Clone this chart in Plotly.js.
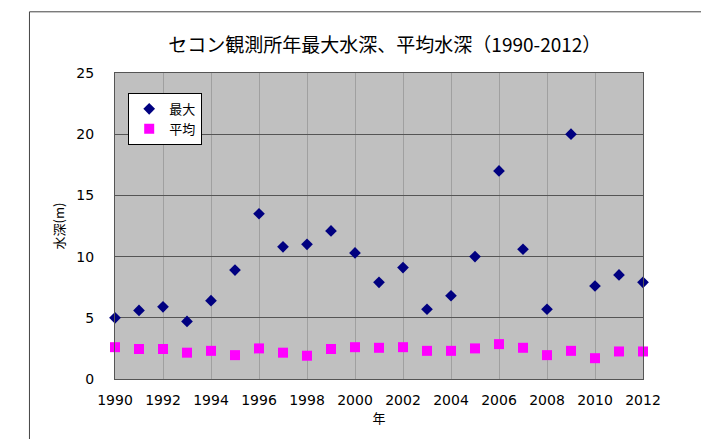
<!DOCTYPE html>
<html><head><meta charset="utf-8">
<script src="https://cdn.plot.ly/plotly-3.0.1.min.js"></script>
<style>body{margin:0;background:#fff}#chart{width:701px;height:439px}</style>
</head><body><div id="chart"></div>
<script>
const years = [1990,1991,1992,1993,1994,1995,1996,1997,1998,1999,2000,2001,2002,2003,2004,2005,2006,2007,2008,2009,2010,2011,2012];
const maxDepth = [5.0,5.6,5.9,4.7,6.4,8.9,13.5,10.8,11.0,12.1,10.3,7.9,9.1,5.7,6.8,10.0,17.0,10.6,5.7,20.0,7.6,8.5,7.9];
const avgDepth = [2.6,2.45,2.45,2.15,2.3,1.95,2.5,2.15,1.9,2.45,2.6,2.55,2.6,2.3,2.3,2.5,2.85,2.55,1.95,2.3,1.7,2.25,2.25];
const seriesNames = ['最大','平均'];
const titleText = 'セコン観測所年最大水深、平均水深（1990-2012）';
const xTitle = '年';
const yTitle = '水深(m)';

const font = '"Noto Sans CJK JP", "Liberation Sans", sans-serif';
const numFont = '"DejaVu Sans", sans-serif';
const traces = [
  {x: years, y: maxDepth, name: seriesNames[0], type: 'scatter', mode: 'markers', cliponaxis: false,
   marker: {symbol: 'diamond', color: '#000080', size: 9}},
  {x: years, y: avgDepth, name: seriesNames[1], type: 'scatter', mode: 'markers', cliponaxis: false,
   marker: {symbol: 'square', color: '#ff00ff', size: 10}}
];
const layout = {
  width: 701, height: 439,
  margin: {l: 115, r: 58, t: 73, b: 60},
  paper_bgcolor: '#ffffff', plot_bgcolor: '#c0c0c0',
  font: {family: font, color: '#000', size: 14},
  title: {text: titleText, x: 0.549, xanchor: 'center', y: 0.897, yanchor: 'middle', font: {family: font, size: 19, color: '#000'}},
  showlegend: true,
  legend: {x: 0.025, y: 0.935, xanchor: 'left', yanchor: 'top', bgcolor: '#ffffff', bordercolor: '#000', borderwidth: 1,
           font: {family: font, size: 13}, itemwidth: 30, tracegroupgap: 2},
  xaxis: {range: [1990, 2012], tick0: 1990, dtick: 2, showgrid: true, gridcolor: '#a0a0a0', gridwidth: 1,
          zeroline: false, showline: true, linecolor: '#555', mirror: true, ticks: '',
          tickfont: {family: numFont, size: 14}, ticklabelstandoff: 8,
          title: {text: xTitle, font: {family: font, size: 13}, standoff: 6}},
  yaxis: {range: [0, 25], dtick: 5, showgrid: true, gridcolor: '#555', gridwidth: 1,
          zeroline: false, showline: true, linecolor: '#555', mirror: true, ticks: '',
          tickfont: {family: numFont, size: 14}, ticklabelstandoff: 17,
          title: {text: yTitle, font: {family: font, size: 13}, standoff: 8}},
  shapes: [{type: 'rect', xref: 'paper', yref: 'paper', x0: -0.162, x1: 1.2, y0: -0.2, y1: 1.2,
            line: {color: '#444', width: 1}, fillcolor: 'rgba(0,0,0,0)', layer: 'below'}]
};
Plotly.newPlot('chart', traces, layout, {displayModeBar: false});
</script></body></html>
